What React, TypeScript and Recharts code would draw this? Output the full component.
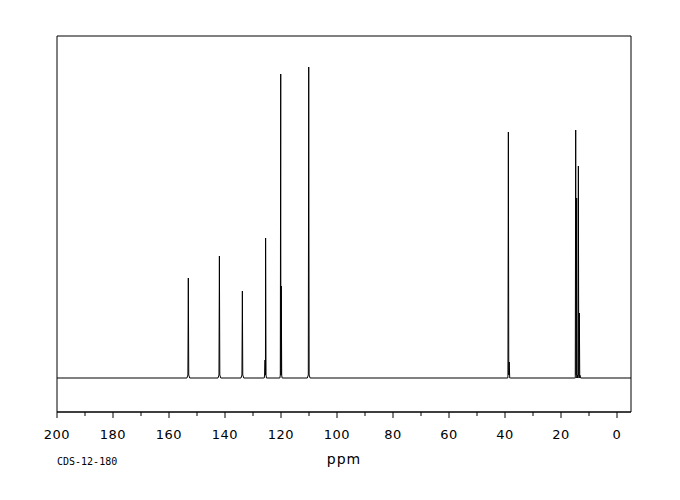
import React from 'react';
import { LineChart, Line, XAxis, YAxis, ReferenceArea } from 'recharts';

// chemical shifts (ppm) and peak heights
const peakShifts = [153.1, 142.0, 133.8, 125.7, 125.5, 120.1, 119.9, 110.1, 38.8, 38.5, 14.75, 14.4, 13.8, 13.45];
const peakHeights = [100, 122, 87, 18, 140, 304, 92, 311, 246, 16, 248, 180, 212, 65];

const xTicks = [200, 190, 180, 170, 160, 150, 140, 130, 120, 110, 100, 90, 80, 70, 60, 50, 40, 30, 20, 10, 0];
const xDomain = [-5, 200];
const yDomain = [-34, 342];

// each peak is drawn as a narrow line with a small foot at the base
const spectrum = (() => {
  const pts: { ppm: number; y: number }[] = [
    { ppm: xDomain[0], y: 0 },
    { ppm: xDomain[1], y: 0 },
  ];
  peakShifts.forEach((s, i) => {
    pts.push({ ppm: s + 0.5, y: 0 });
    pts.push({ ppm: s + 0.15, y: 3 });
    pts.push({ ppm: s, y: peakHeights[i] });
    pts.push({ ppm: s - 0.15, y: 3 });
    pts.push({ ppm: s - 0.5, y: 0 });
  });
  return pts.sort((a, b) => a.ppm - b.ppm);
})();

const PpmTick = (props: any) => {
  const { x, y, payload } = props;
  const major = payload.value % 20 === 0;
  return (
    <g>
      <line x1={x} y1={y} x2={x} y2={y + (major ? 6 : 4)} stroke="#000" />
      {major && (
        <text
          x={x}
          y={y + 26.5}
          textAnchor="middle"
          fontSize={13}
          letterSpacing={0.5}
          fontFamily="DejaVu Sans"
          fill="#000"
        >
          {payload.value}
        </text>
      )}
    </g>
  );
};

const AxisCaption = (props: any) => {
  const { x, y, width } = props.viewBox;
  return (
    <g>
      <text
        x={x + width / 2}
        y={y + 52}
        textAnchor="middle"
        fontSize={14}
        letterSpacing={1}
        fontFamily="DejaVu Sans"
        fill="#000"
      >
        ppm
      </text>
      <text x={x} y={y + 53} fontSize={10} fontFamily="DejaVu Sans Mono" fill="#000">
        CDS-12-180
      </text>
    </g>
  );
};

export default function App() {
  return (
    <div style={{ position: 'absolute', left: 0, top: 0, background: '#fff' }}>
      <LineChart width={680} height={500} data={spectrum} margin={{ top: 36, right: 49, left: 57, bottom: 0 }}>
        <XAxis
          dataKey="ppm"
          type="number"
          domain={xDomain}
          reversed
          ticks={xTicks}
          interval={0}
          tickLine={false}
          tickSize={0}
          tickMargin={0}
          tick={<PpmTick />}
          axisLine={{ stroke: '#000' }}
          height={88}
          label={<AxisCaption />}
        />
        <YAxis type="number" domain={yDomain} hide allowDataOverflow />
        <ReferenceArea
          x1={xDomain[0]}
          x2={xDomain[1]}
          y1={yDomain[0]}
          y2={yDomain[1]}
          fill="none"
          stroke="#000"
          strokeOpacity={1}
          fillOpacity={0}
        />
        <Line
          type="linear"
          dataKey="y"
          stroke="#000"
          strokeWidth={1}
          dot={false}
          isAnimationActive={false}
        />
      </LineChart>
    </div>
  );
}
